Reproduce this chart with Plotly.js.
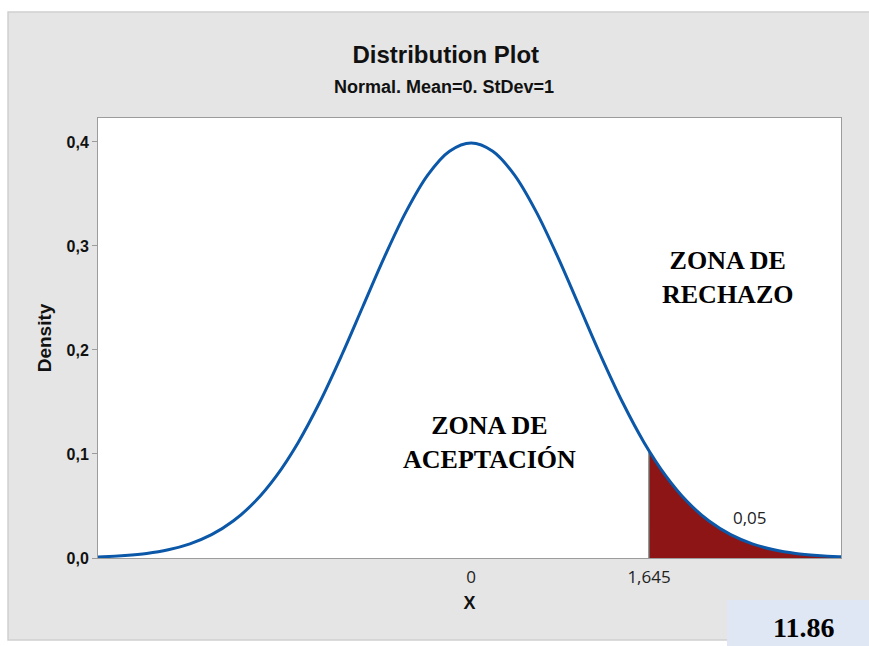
<!DOCTYPE html>
<html>
<head>
<meta charset="utf-8">
<script src="https://cdn.plot.ly/plotly-3.0.1.min.js"></script>
<style>
  body { margin: 0; background: #fff; }
  #chart { width: 869px; height: 646px; }
</style>
</head>
<body>
<div id="chart"></div>
<script>
// density curve (x, density)
const curveX = [-3.6, -3.4, -3.2, -3.0, -2.8, -2.6, -2.4, -2.2, -2.0, -1.8, -1.6, -1.4, -1.2, -1.0,
  -0.8, -0.6, -0.4, -0.2, 0, 0.2, 0.4, 0.6, 0.8, 1.0, 1.2, 1.4, 1.6, 1.8, 2.0, 2.2, 2.4,
  2.6, 2.8, 3.0, 3.2, 3.4, 3.6];
const curveY = [0.0006, 0.0012, 0.0024, 0.0044, 0.0079, 0.0136, 0.0224, 0.0355, 0.0540, 0.0790,
  0.1109, 0.1497, 0.1942, 0.2420, 0.2897, 0.3332, 0.3683, 0.3910, 0.3989, 0.3910, 0.3683,
  0.3332, 0.2897, 0.2420, 0.1942, 0.1497, 0.1109, 0.0790, 0.0540, 0.0355, 0.0224, 0.0136,
  0.0079, 0.0044, 0.0024, 0.0012, 0.0006];

// shaded rejection tail, from the critical value
const tailX = [1.645, 1.8, 2.0, 2.2, 2.4, 2.6, 2.8, 3.0, 3.2, 3.4, 3.6];
const tailY = [0.1031, 0.0790, 0.0540, 0.0355, 0.0224, 0.0136, 0.0079, 0.0044, 0.0024, 0.0012, 0.0006];

const xTickVals = [0, 1.645];
const xTickText = ['0', '1,645'];
const yTickVals = [0, 0.1, 0.2, 0.3, 0.4];

const tailArea = '0,05';
const boxValue = '11.86';

const blue = '#0B57A8';
const darkRed = '#8E1515';
const axisGray = '#9c9c9c';

const tail = {
  x: tailX, y: tailY, type: 'scatter', mode: 'lines',
  line: { width: 0, shape: 'spline' },
  fill: 'tozeroy', fillcolor: darkRed, hoverinfo: 'skip'
};

const edge = {
  x: [tailX[0], tailX[0]], y: [0, tailY[0]], type: 'scatter', mode: 'lines',
  line: { color: '#6f6f6f', width: 1.5 }, hoverinfo: 'skip'
};

const curve = {
  x: curveX, y: curveY, type: 'scatter', mode: 'lines',
  line: { color: blue, width: 3, shape: 'spline' }
};

const sansBold = 'Liberation Sans, Arial, sans-serif';
const serifBold = { family: 'Liberation Serif, Times New Roman, serif', size: 26, color: '#000', weight: 'bold' };
const labelFont = { family: 'Open Sans, Segoe UI, sans-serif', size: 17, color: '#222' };

const layout = {
  width: 869, height: 646,
  margin: { l: 98, r: 28, t: 118, b: 88 },
  paper_bgcolor: '#fff',
  plot_bgcolor: '#fff',
  separators: ',.',
  showlegend: false,
  title: {
    text: 'Distribution Plot',
    font: { family: sansBold, size: 24, color: '#111', weight: 'bold' },
    x: 0.513, xref: 'container', xanchor: 'center',
    y: 0.916, yref: 'container', yanchor: 'middle'
  },
  xaxis: {
    range: [-3.45, 3.42],
    tickvals: xTickVals, ticktext: xTickText,
    ticks: '', tickfont: labelFont, ticklabelstandoff: 4,
    showgrid: false, zeroline: false,
    showline: true, mirror: true, linecolor: axisGray, linewidth: 1,
    layer: 'below traces',
    title: { text: 'X', font: { family: sansBold, size: 18, color: '#111', weight: 'bold' }, standoff: 8 }
  },
  yaxis: {
    range: [0, 0.423],
    tickvals: yTickVals, tickformat: '.1f',
    ticks: 'outside', ticklen: 5, tickcolor: axisGray,
    tickfont: { family: sansBold, size: 16, color: '#111', weight: 'bold' },
    showgrid: false, zeroline: false,
    showline: true, mirror: true, linecolor: axisGray, linewidth: 1,
    layer: 'below traces',
    title: { text: 'Density', font: { family: sansBold, size: 19, color: '#111', weight: 'bold' }, standoff: 9 }
  },
  shapes: [
    // gray panel behind everything
    { type: 'rect', xref: 'paper', yref: 'paper', x0: -0.1211, x1: 1.04, y0: -0.1864, y1: 1.2409,
      fillcolor: '#E5E5E5', line: { color: '#D0D0D0', width: 1.5 }, layer: 'below' },
    { type: 'rect', xref: 'paper', yref: 'paper', x0: 0, x1: 1, y0: 0, y1: 1,
      fillcolor: '#fff', line: { width: 0 }, layer: 'below' },
    // light blue box at the bottom right
    { type: 'rect', xref: 'paper', yref: 'paper', x0: 0.8466, x1: 1.04, y0: -0.2, y1: -0.0955,
      fillcolor: '#DFE7F4', line: { width: 0 }, layer: 'below' }
  ],
  annotations: [
    { text: 'Normal. Mean=0. StDev=1', xref: 'paper', yref: 'paper', x: 0.4657, y: 1.0705,
      xanchor: 'center', yanchor: 'middle', showarrow: false,
      font: { family: sansBold, size: 18, color: '#111', weight: 'bold' } },
    { text: 'ZONA DE<br>ACEPTACIÓN', x: 0.166, y: 0.1106, xanchor: 'center', yanchor: 'middle',
      showarrow: false, align: 'center', font: serifBold },
    { text: 'ZONA DE<br>RECHAZO', x: 2.366, y: 0.270, xanchor: 'center', yanchor: 'middle',
      showarrow: false, align: 'center', font: serifBold },
    { text: tailArea, x: 2.579, y: 0.0385, xanchor: 'center', yanchor: 'middle',
      showarrow: false, font: labelFont },
    { text: boxValue, xref: 'paper', yref: 'paper', x: 0.9489, y: -0.158,
      xanchor: 'center', yanchor: 'middle', showarrow: false,
      font: { family: 'Liberation Serif, Times New Roman, serif', size: 28, color: '#000', weight: 'bold' } }
  ]
};

Plotly.newPlot('chart', [tail, edge, curve], layout, { displayModeBar: false, staticPlot: true });
</script>
</body>
</html>
